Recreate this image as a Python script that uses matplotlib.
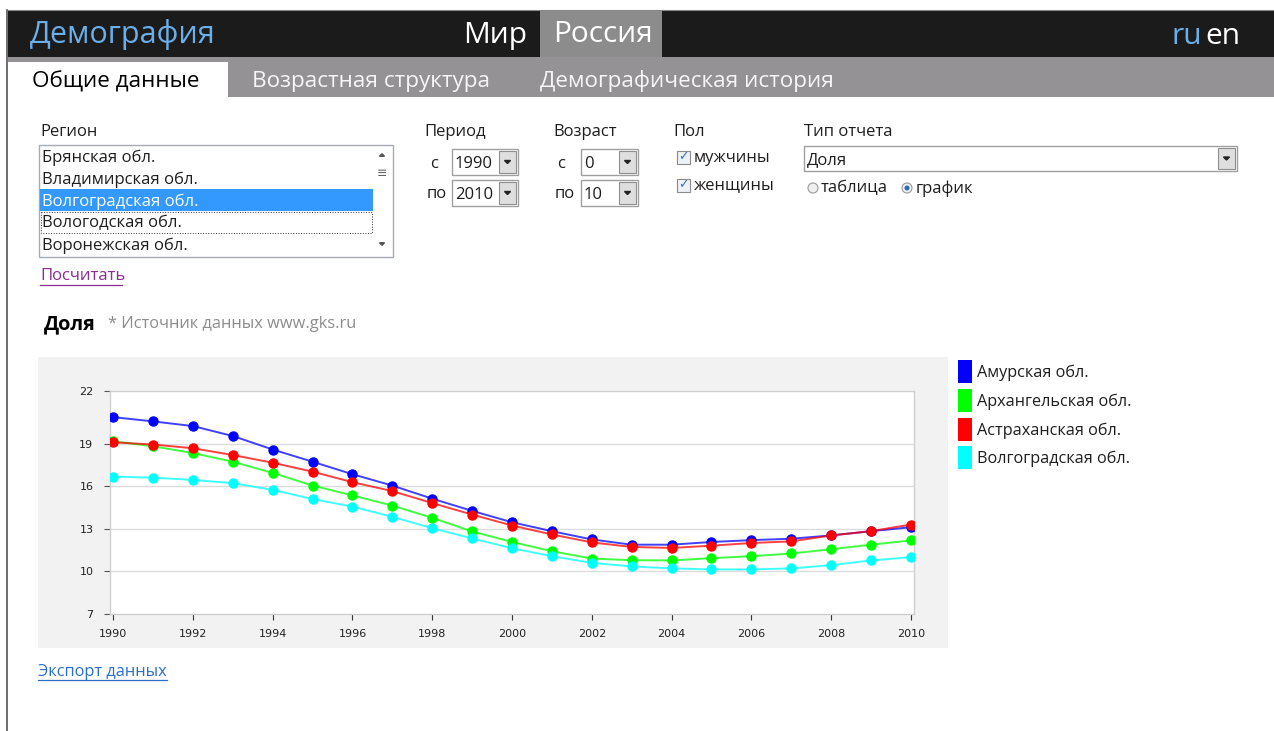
import matplotlib
matplotlib.use("Agg")
import matplotlib.pyplot as plt
from matplotlib.patches import Rectangle, Polygon, Circle

# chart data (доля, %)
years = list(range(1990, 2011))
amur = [20.86, 20.56, 20.23, 19.53, 18.58, 17.72, 16.84, 16.04, 15.12, 14.26, 13.46,
        12.83, 12.25, 11.88, 11.88, 12.07, 12.20, 12.30, 12.53, 12.83, 13.11]
arkh = [19.16, 18.81, 18.33, 17.72, 16.93, 16.04, 15.35, 14.63, 13.77, 12.81, 12.07,
        11.42, 10.90, 10.79, 10.77, 10.93, 11.07, 11.26, 11.56, 11.88, 12.18]
astr = [19.09, 18.93, 18.67, 18.19, 17.65, 17.02, 16.28, 15.65, 14.81, 14.00, 13.23,
        12.60, 12.04, 11.72, 11.65, 11.81, 12.00, 12.11, 12.53, 12.83, 13.30]
volg = [16.67, 16.60, 16.44, 16.21, 15.74, 15.09, 14.56, 13.84, 13.04, 12.32, 11.63,
        11.07, 10.60, 10.35, 10.21, 10.14, 10.14, 10.21, 10.44, 10.77, 11.00]
series_names = ["Амурская обл.", "Архангельская обл.", "Астраханская обл.", "Волгоградская обл."]
series_colors = ["#0000ff", "#00ff00", "#ff0000", "#00ffff"]
y_ticks = [7, 10, 13, 16, 19]
x_ticks = list(range(1990, 2011, 2))

region_items = ["Брянская обл.", "Владимирская обл.", "Волгоградская обл.",
                "Вологодская обл.", "Воронежская обл."]

W, H = 1274, 731
UI = "Open Sans"
FS = 12  # form text size

fig = plt.figure(figsize=(W / 100, H / 100), dpi=100)
fig.patch.set_facecolor("white")

# page layer in pixel coordinates
bg = fig.add_axes([0, 0, 1, 1])
bg.set_xlim(0, W)
bg.set_ylim(H, 0)
bg.axis("off")


def box(x0, y0, x1, y1, fc, ec="none", lw=1.0, ls="-", z=1):
    bg.add_patch(Rectangle((x0, y0), x1 - x0, y1 - y0, facecolor=fc, edgecolor=ec,
                           linewidth=lw, linestyle=ls, zorder=z))


def txt(x, y, s, size=FS, color="#1e1e1e", dy=1.5, **kw):
    kw.setdefault("family", UI)
    bg.text(x, y + dy, s, fontsize=size, color=color, va="center", ha=kw.pop("ha", "left"), **kw)


def tri(cx, cy, up=False, s=3.5, color="#222222"):
    d = -s if up else s
    bg.add_patch(Polygon([(cx - s, cy - d / 2), (cx + s, cy - d / 2), (cx, cy + d / 2)],
                         closed=True, color=color, zorder=4))


def combo(x0, y0, x1, y1, value):
    box(x0, y0, x1, y1, "white", "#a0a0a0", 1.0, z=2)
    box(x1 - 19, y0 + 2, x1 - 2, y1 - 2, "#dedede", "#8f8f8f", 0.8, z=3)
    tri(x1 - 10.5, (y0 + y1) / 2, s=3)
    txt(x0 + 3, (y0 + y1) / 2 + 0.5, value, FS, zorder=3)


# left border line
bg.plot([6.5, 6.5], [10, H], color="#555555", lw=1.2)

# header
box(8, 10, W, 57, "#1b1b1b")
bg.plot([8, W], [10, 10], color="#888888", lw=0.8)
txt(30, 32, "Демография", 22, "#6aaeea", dy=3)
txt(463, 32, "Мир", 21.5, "white", dy=3)
box(540, 10, 662, 57, "#8c8c8c")
txt(553, 32, "Россия", 21.5, "white", dy=3)
txt(1172, 35, "ru", 21.5, "#6aaeea", dy=2)
txt(1205, 35, "en", 21.5, "white", dy=2)

# tabs
box(8, 57, W, 97, "#949294")
box(8, 62, 228, 97, "white")
txt(32, 79, "Общие данные", 16.2, "black", dy=2.5)
txt(252, 79, "Возрастная структура", 16.2, "#f6f6f6", dy=2.5)
txt(540, 79, "Демографическая история", 16.2, "#f6f6f6", dy=2.5)

# region list
txt(40, 130, "Регион")
box(39, 145, 393, 257, "white", "#a5acb5", 1.0)
box(40, 189, 373, 211, "#3399ff", z=2)
box(41, 212, 372, 233, "none", "#333333", 0.7, ":", z=2)
for i, name in enumerate(region_items):
    txt(42, 156 + 22 * i, name, FS, "white" if i == 2 else "#1e1e1e", zorder=3)
tri(382, 155, up=True, s=2.5, color="#555555")
tri(382, 244, s=2.5, color="#555555")
txt(382, 173, "≡", 9, "#666666", dy=0, ha="center", family="DejaVu Sans")
txt(40, 275, "Посчитать", FS, "#8a2f8f")
bg.plot([40, 122], [285, 285], color="#8a2f8f", lw=0.9)

# period
txt(424, 130, "Период")
txt(430, 162, "с")
combo(452, 149, 518, 175, "1990")
txt(427, 193, "по")
combo(452, 180, 518, 206, "2010")

# age
txt(553, 130, "Возраст")
txt(557, 162, "с")
combo(581, 149, 638, 175, "0")
txt(555, 193, "по")
combo(581, 180, 638, 206, "10")

# sex
txt(673, 130, "Пол")
for cy, label in [(157, "мужчины"), (185, "женщины")]:
    box(677, cy - 6.5, 690, cy + 6.5, "#eef2f7", "#8a8a8a", 0.8, z=2)
    txt(683.5, cy, "✓", 9, "#3b6fc2", dy=0, ha="center", family="DejaVu Sans",
        fontweight="bold", zorder=3)
    txt(694, cy - 1, label)

# report type
txt(804, 130, "Тип отчета")
combo(804, 146, 1237, 171, "Доля")
bg.add_patch(Circle((813, 188), 5, facecolor="#f0f0f0", edgecolor="#9a9a9a", lw=0.8, zorder=2))
txt(821, 187, "таблица")
bg.add_patch(Circle((907, 188), 5, facecolor="#f0f0f0", edgecolor="#9a9a9a", lw=0.8, zorder=2))
bg.add_patch(Circle((907, 188), 2.5, facecolor="#2a6db5", zorder=3))
txt(916, 187, "график")

# chart title
txt(44, 323, "Доля", 14.2, "black", fontweight="bold")
txt(108, 322, "* Источник данных www.gks.ru", 11.8, "#8c8c8c")

# chart background and legend
box(38, 357, 948, 648, "#f2f2f2")
legend_y = [371, 400.5, 429, 457.5]
for ly, name, col in zip(legend_y, series_names, series_colors):
    box(958, ly - 11.5, 972, ly + 11.5, col)
    txt(977, ly, name, 11.7)

txt(38, 670, "Экспорт данных", 11.8, "#2a6fc9")
bg.plot([38, 167], [680, 680], color="#2a6fc9", lw=0.9)

# chart axes
pl, pr, pt, pb = 110, 914, 391, 614
ax = fig.add_axes([pl / W, 1 - pb / H, (pr - pl) / W, (pb - pt) / H])
ax.set_facecolor("white")
for (vals, col) in zip([amur, arkh, astr, volg], series_colors):
    ax.plot(years, vals, color=col, lw=1.4, alpha=0.75, zorder=3)
    ax.plot(years, vals, "o", color=col, ms=6.5, zorder=4)

ytop = 22.7
ax.set_xlim(1989.92, 2010.08)
ax.set_ylim(7, ytop)
ax.set_yticks(y_ticks + [ytop])
ax.set_yticklabels([str(v) for v in y_ticks] + ["22"])
ax.set_xticks(x_ticks)
ax.set_xticklabels([str(v) for v in x_ticks])
for v in y_ticks[1:]:
    ax.axhline(v, color="#dcdcdc", lw=1.0, zorder=1)
for sp in ax.spines.values():
    sp.set_color("#cfcfcf")
    sp.set_linewidth(1.0)
ax.tick_params(axis="y", length=4, width=0.8, color="#555555", pad=8, labelsize=8, labelcolor="#222222")
ax.tick_params(axis="x", length=4, width=0.8, color="#333333", pad=7, labelsize=8, labelcolor="#222222")

fig.savefig("out.png", dpi=100)
